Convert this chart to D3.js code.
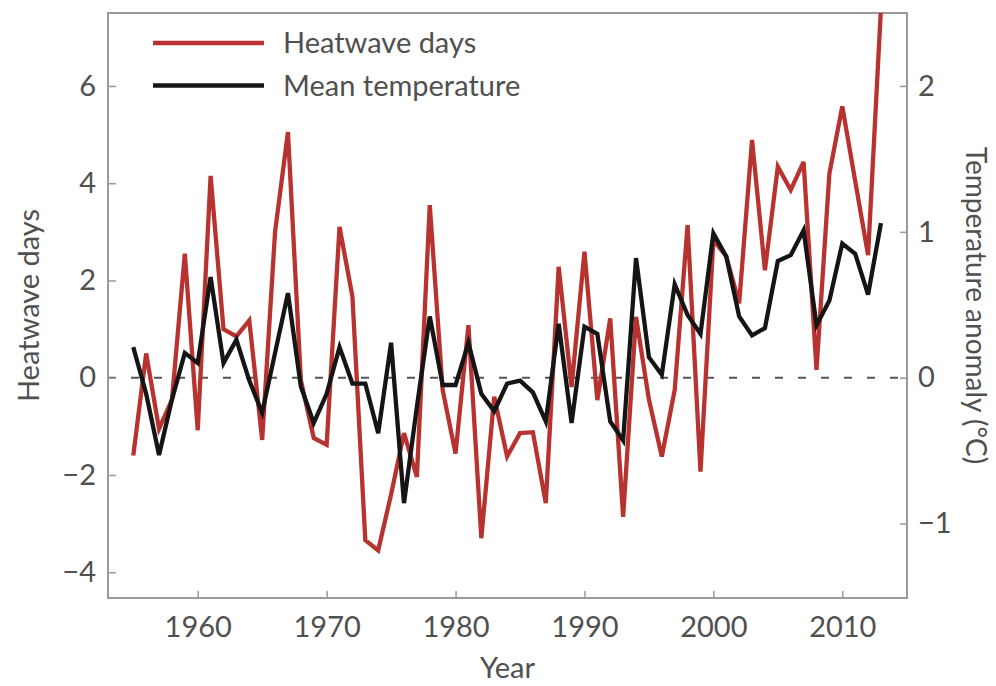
<!DOCTYPE html>
<html>
<head>
<meta charset="utf-8">
<script src="https://cdn.jsdelivr.net/npm/d3@7"></script>
<style>
  body { margin: 0; background: #fff; }
  svg { display: block; font-family: Lato, "Open Sans", sans-serif; }
</style>
</head>
<body>
<figure id="chart" style="margin:0"></figure>
<script>
const years = [1955, 1956, 1957, 1958, 1959, 1960, 1961, 1962, 1963, 1964,
  1965, 1966, 1967, 1968, 1969, 1970, 1971, 1972, 1973, 1974,
  1975, 1976, 1977, 1978, 1979, 1980, 1981, 1982, 1983, 1984,
  1985, 1986, 1987, 1988, 1989, 1990, 1991, 1992, 1993, 1994,
  1995, 1996, 1997, 1998, 1999, 2000, 2001, 2002, 2003, 2004,
  2005, 2006, 2007, 2008, 2009, 2010, 2011, 2012, 2013];

// heatwave days anomaly (left axis)
const heatwaveDays = [-1.6, 0.5, -1.05, -0.45, 2.55, -1.08, 4.15, 1.0, 0.85, 1.18,
  -1.28, 3.0, 5.05, -0.05, -1.24, -1.38, 3.1, 1.67, -3.34, -3.55,
  -2.4, -1.14, -2.04, 3.55, -0.25, -1.56, 1.08, -3.3, -0.39, -1.62,
  -1.14, -1.12, -2.58, 2.28, -0.19, 2.59, -0.46, 1.22, -2.86, 1.25,
  -0.45, -1.62, -0.25, 3.14, -1.93, 2.83, 2.5, 1.53, 4.89, 2.21,
  4.34, 3.86, 4.44, 0.16, 4.2, 5.58, 4.05, 2.52, 7.6];

// mean temperature anomaly, degC (right axis)
const meanTemp = [0.21, -0.11, -0.53, -0.15, 0.17, 0.10, 0.69, 0.10, 0.26, -0.02,
  -0.24, 0.17, 0.58, -0.06, -0.31, -0.11, 0.21, -0.04, -0.04, -0.38,
  0.24, -0.86, -0.2, 0.42, -0.05, -0.05, 0.24, -0.11, -0.23, -0.04,
  -0.02, -0.10, -0.30, 0.37, -0.31, 0.35, 0.30, -0.30, -0.43, 0.82,
  0.14, 0.02, 0.64, 0.43, 0.30, 0.99, 0.83, 0.42, 0.29, 0.34,
  0.80, 0.84, 1.01, 0.36, 0.53, 0.92, 0.85, 0.57, 1.06];

const xTicks = [1960, 1970, 1980, 1990, 2000, 2010];
const leftTicks = [-4, -2, 0, 2, 4, 6];
const rightTicks = [-1, 0, 1, 2];
const seriesNames = ["Heatwave days", "Mean temperature"];
const seriesColors = ["#b83330", "#151515"];

const width = 996, height = 686;
const margin = { top: 13, right: 89, bottom: 88, left: 108 };
const innerW = width - margin.left - margin.right;
const innerH = height - margin.top - margin.bottom;
const textColor = "#505050";
const fontSize = 29;

const svg = d3.select("figure#chart")
  .append("svg")
  .attr("width", width)
  .attr("height", height);

const g = svg.append("g")
  .attr("transform", "translate(" + margin.left + "," + margin.top + ")");

const x = d3.scaleLinear().domain([1953.04, 2015.02]).range([0, innerW]);
const yLeft = d3.scaleLinear().domain([-4.53, 7.5]).range([innerH, 0]);
const yRight = d3.scaleLinear().domain([-1.51, 2.5]).range([innerH, 0]);

g.append("clipPath").attr("id", "plotClip")
  .append("rect").attr("width", innerW).attr("height", innerH);

// zero line
g.append("line")
  .attr("x1", 0).attr("x2", innerW)
  .attr("y1", yLeft(0)).attr("y2", yLeft(0))
  .attr("stroke", "#555")
  .attr("stroke-width", 2)
  .attr("stroke-dasharray", "8,15");

// axes, ticks pointing inwards
const minus = d => d < 0 ? "\u2212" + Math.abs(d) : d;
const styleAxis = sel => {
  sel.select(".domain").remove();
  sel.selectAll(".tick line").attr("stroke", "#999").attr("stroke-width", 1.5);
  sel.selectAll(".tick text")
    .attr("fill", textColor)
    .style("font-size", fontSize + "px")
    .style("font-family", "Lato, sans-serif");
};

g.append("g")
  .attr("transform", "translate(0," + innerH + ")")
  .call(d3.axisBottom(x).tickValues(xTicks).tickFormat(d3.format("d"))
    .tickSizeInner(-7).tickSizeOuter(0).tickPadding(18))
  .call(styleAxis);

g.append("g")
  .call(d3.axisLeft(yLeft).tickValues(leftTicks).tickFormat(minus)
    .tickSizeInner(-8).tickSizeOuter(0).tickPadding(12))
  .call(styleAxis);

g.append("g")
  .attr("transform", "translate(" + innerW + ",0)")
  .call(d3.axisRight(yRight).tickValues(rightTicks).tickFormat(minus)
    .tickSizeInner(-7).tickSizeOuter(0).tickPadding(11))
  .call(styleAxis);

// frame
g.append("rect")
  .attr("width", innerW).attr("height", innerH)
  .attr("fill", "none")
  .attr("stroke", "#9a9a9a")
  .attr("stroke-width", 2);

// lines
const lineHeat = d3.line().x((d, i) => x(years[i])).y(d => yLeft(d));
const lineTemp = d3.line().x((d, i) => x(years[i])).y(d => yRight(d));

const lines = g.append("g").attr("clip-path", "url(#plotClip)");
lines.append("path")
  .datum(heatwaveDays)
  .attr("d", lineHeat)
  .attr("fill", "none")
  .attr("stroke", seriesColors[0])
  .attr("stroke-width", 4.3);
lines.append("path")
  .datum(meanTemp)
  .attr("d", lineTemp)
  .attr("fill", "none")
  .attr("stroke", seriesColors[1])
  .attr("stroke-width", 4.3);

// legend
const legend = g.append("g").attr("transform", "translate(45,30)");
legend.selectAll("line")
  .data(seriesNames)
  .join("line")
  .attr("x1", 0).attr("x2", 111)
  .attr("y1", (d, i) => i * 42.5).attr("y2", (d, i) => i * 42.5)
  .attr("stroke", (d, i) => seriesColors[i])
  .attr("stroke-width", 4.5);
legend.selectAll("text")
  .data(seriesNames)
  .join("text")
  .attr("x", 130)
  .attr("y", (d, i) => i * 42.5)
  .attr("dy", "0.35em")
  .attr("fill", textColor)
  .style("font-size", fontSize + "px")
  .text(d => d);

// axis titles
svg.append("text")
  .attr("x", margin.left + innerW / 2)
  .attr("y", 668)
  .attr("text-anchor", "middle")
  .attr("dy", "0.35em")
  .attr("fill", textColor)
  .style("font-size", fontSize + "px")
  .text("Year");

svg.append("text")
  .attr("transform", "translate(29," + (margin.top + innerH / 2) + ") rotate(-90)")
  .attr("text-anchor", "middle")
  .attr("dy", "0.35em")
  .attr("fill", textColor)
  .style("font-size", fontSize + "px")
  .text("Heatwave days");

svg.append("text")
  .attr("transform", "translate(976," + (margin.top + innerH / 2) + ") rotate(90)")
  .attr("text-anchor", "middle")
  .attr("dy", "0.35em")
  .attr("fill", textColor)
  .style("font-size", "28px")
  .text("Temperature anomaly (\u00B0C)");
</script>
</body>
</html>
